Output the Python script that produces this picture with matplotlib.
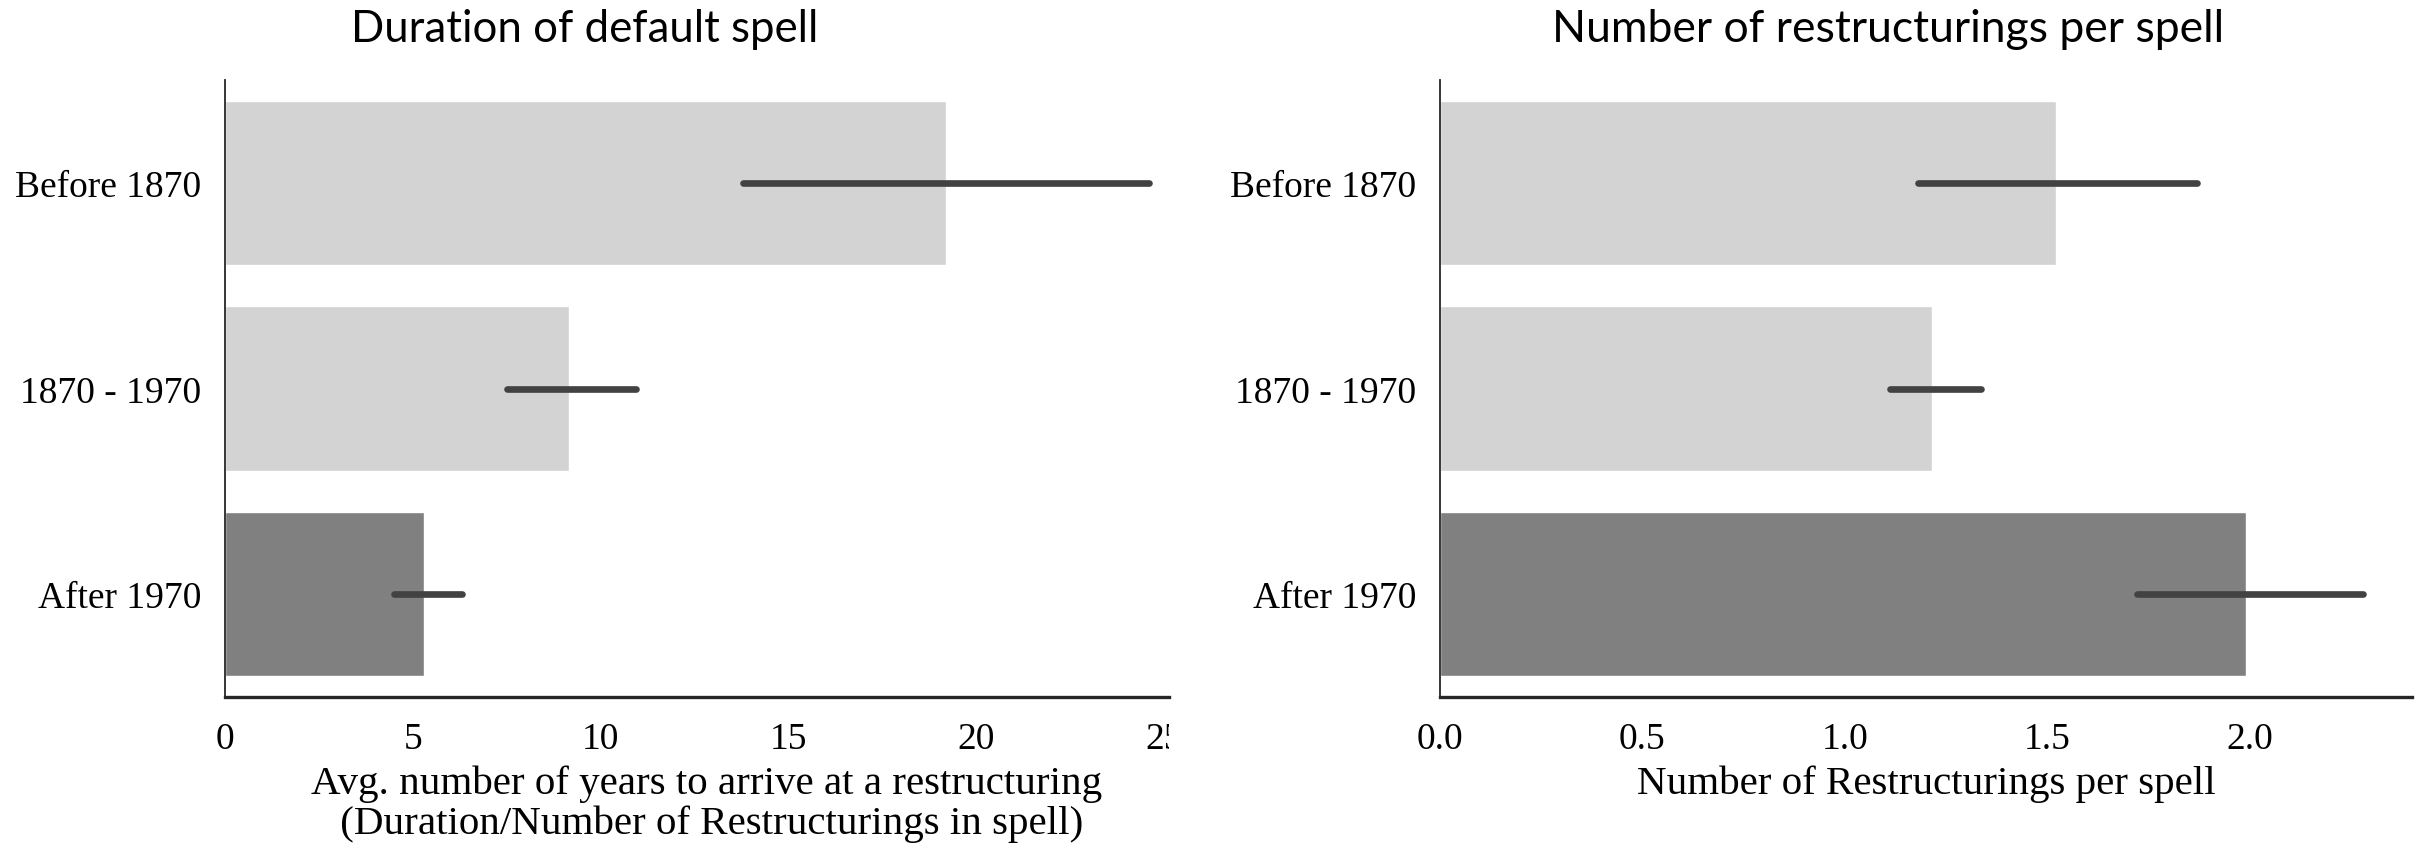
import numpy as np
import matplotlib
matplotlib.use("Agg")
import matplotlib.pyplot as plt
from matplotlib.transforms import Bbox, TransformedBbox

# data
periods = ["Before 1870", "1870 - 1970", "After 1970"]
bar_colors = ["#d3d3d3", "#d3d3d3", "#808080"]

dur_mean = [19.2, 9.15, 5.3]     # avg years to a restructuring
dur_lo = [13.8, 7.5, 4.5]
dur_hi = [24.6, 10.95, 6.3]

restr_mean = [1.52, 1.215, 1.99]  # restructurings per spell
restr_lo = [1.18, 1.11, 1.72]
restr_hi = [1.87, 1.335, 2.28]

W, H = 2415, 845
fig = plt.figure(figsize=(W / 100, H / 100), dpi=100)

serif = "Liberation Serif"
sans = "Lato"
fs = 27
fs_lab = 29.5

ax1 = fig.add_axes([225 / W, 1 - 698 / H, 944 / W, 617 / H])
ax2 = fig.add_axes([1440 / W, 1 - 698 / H, 972 / W, 617 / H])


def draw_panel(ax, mean, lo, hi):
    y = np.arange(len(periods))
    ax.barh(y, mean, height=0.8, color=bar_colors, edgecolor="white", linewidth=1.0, zorder=2)
    for i in range(len(periods)):
        ax.plot([lo[i], hi[i]], [y[i], y[i]], color="#424242", lw=4.8,
                solid_capstyle="round", zorder=3)
    ax.set_yticks(y)
    ax.set_yticklabels(periods, fontfamily=serif, fontsize=fs)
    ax.set_ylim(2.5, -0.5)
    ax.tick_params(axis="y", length=0, pad=17)
    ax.tick_params(axis="x", length=0, pad=18)
    for s in ["top", "right"]:
        ax.spines[s].set_visible(False)
    ax.spines["left"].set_linewidth(1.3)
    ax.spines["left"].set_color("#262626")
    ax.spines["bottom"].set_linewidth(2.4)
    ax.spines["bottom"].set_color("#262626")


draw_panel(ax1, dur_mean, dur_lo, dur_hi)
ax1.set_xticks([0, 5, 10, 15, 20, 25])
ax1.set_xticklabels(["0", "5", "10", "15", "20", "25"], fontfamily=serif, fontsize=fs)
ax1.set_xlim(0, 25.13)
ax1.set_xlabel("Avg. number of years to arrive at a restructuring\n (Duration/Number of Restructurings in spell)",
               fontfamily=serif, fontsize=fs_lab, linespacing=1.08)
ax1.xaxis.set_label_coords(0.51, -0.11, transform=ax1.transAxes)
ax1.xaxis.label.set_va("top")

# the reference cuts the left panel off at its right edge
clip = TransformedBbox(Bbox([[0, 0], [1169 / W, 1]]), fig.transFigure)
for t in ax1.xaxis.get_major_ticks():
    t.label1.set_clip_on(True)
    t.label1.set_clip_box(clip)

draw_panel(ax2, restr_mean, restr_lo, restr_hi)
ax2.set_xticks([0.0, 0.5, 1.0, 1.5, 2.0])
ax2.set_xticklabels(["0.0", "0.5", "1.0", "1.5", "2.0"], fontfamily=serif, fontsize=fs)
ax2.set_xlim(0, 2.40)
ax2.set_xlabel("Number of Restructurings per spell", fontfamily=serif, fontsize=fs_lab)
ax2.xaxis.set_label_coords(0.5, -0.11, transform=ax2.transAxes)
ax2.xaxis.label.set_va("top")

fig.text(585 / W, 1 - 42 / H, "Duration of default spell", fontfamily=sans,
         fontsize=31.5, ha="center", va="baseline")
fig.text(1888 / W, 1 - 42 / H, "Number of restructurings per spell", fontfamily=sans,
         fontsize=32, ha="center", va="baseline")

fig.savefig("out.png", dpi=100)
